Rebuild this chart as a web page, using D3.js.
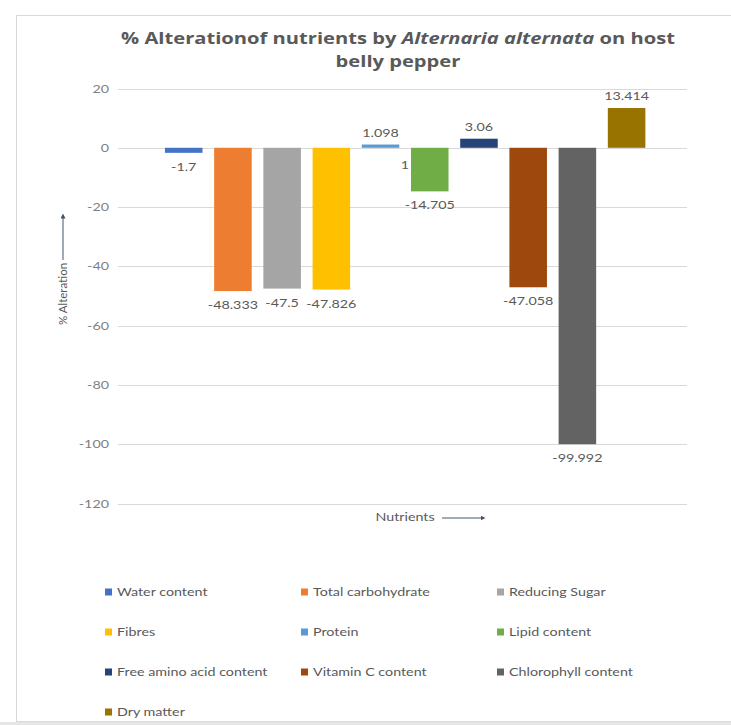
<!DOCTYPE html>
<html><head><meta charset="utf-8">
<script src="https://cdn.jsdelivr.net/npm/d3@7"></script>
<style>body{margin:0;background:#fff;}svg{display:block;font-family:Lato,"Open Sans",sans-serif;}</style>
</head><body>
<svg id="chart" width="731" height="725"></svg>
<script>
const categories = ["Water content","Total carbohydrate","Reducing Sugar","Fibres","Protein","Lipid content","Free amino acid content","Vitamin C content","Chlorophyll content","Dry matter"];
const values = [-1.7,-48.333,-47.5,-47.826,1.098,-14.705,3.06,-47.058,-99.992,13.414];
const labels = ["-1.7","-48.333","-47.5","-47.826","1.098","-14.705","3.06","-47.058","-99.992","13.414"];
const colors = ["#4472C4","#ED7D31","#A5A5A5","#FFC000","#5B9BD5","#70AD47","#264478","#9E480E","#636363","#997300"];
const yTicks = [20,0,-20,-40,-60,-80,-100,-120];

const SX = 1.3; // horizontal stretch of the reference image's text
const svg = d3.select("#chart");
// frame
svg.append("rect").attr("x",16.5).attr("y",15.5).attr("width",730).attr("height",706)
  .attr("fill","#fff").attr("stroke","#d9d9d9");
svg.append("rect").attr("x",0).attr("y",722).attr("width",731).attr("height",3).attr("fill","#e6e6e6");

const y = d3.scaleLinear().domain([-120,20]).range([503.5,88.5]);
const x = d3.scaleBand().domain(categories).range([118,687]).paddingInner(0.237).paddingOuter(0.9).align(0.53);

// gridlines
svg.append("g").selectAll("line").data(yTicks).join("line")
  .attr("x1",118).attr("x2",687).attr("y1",d=>Math.round(y(d))+0.5).attr("y2",d=>Math.round(y(d))+0.5)
  .attr("stroke","#d9d9d9").attr("stroke-width",1);
// tick labels
const yAxis = d3.axisLeft(y).tickValues(yTicks).tickSize(0).tickPadding(0).tickFormat(d=>String(d));
const ga = svg.append("g").attr("transform","translate(109,0)").call(yAxis);
ga.select(".domain").remove();
ga.selectAll("text").attr("fill","#7f7f7f").attr("font-size","11px").attr("x",0)
  .attr("transform",`scale(${SX},1)`).style("font-family","Lato,sans-serif");

// bars
svg.append("g").selectAll("rect").data(values).join("rect")
  .attr("x",(d,i)=>x(categories[i])).attr("width",x.bandwidth())
  .attr("y",d=>y(Math.max(0,d))).attr("height",d=>Math.abs(y(d)-y(0)))
  .attr("fill",(d,i)=>colors[i]);

function stretched(g, tx, ty, txt, size, anchor, fill){
  return g.append("text").attr("transform",`translate(${tx},${ty}) scale(${SX},1)`)
    .attr("text-anchor",anchor).attr("font-size",size).attr("fill",fill).text(txt);
}

// data labels
const gl = svg.append("g");
values.forEach((d,i)=>{
  const cx = x(categories[i])+x.bandwidth()/2;
  stretched(gl, cx, d<0?y(d)+18:y(d)-8, labels[i], "11px", "middle", "#595959");
});
// stray label fragment
stretched(gl, x("Lipid content")-6, y(-7.3), "1", "11px", "middle", "#595959");

// title
const tg = svg.append("g").style("font-family","'Open Sans',sans-serif").attr("font-weight","bold");
const t = stretched(tg, 398, 43.5, null, "15.5px", "middle", "#595959");
t.append("tspan").text("% Alterationof nutrients by ");
t.append("tspan").attr("font-style","italic").text("Alternaria alternata");
t.append("tspan").text(" on host");
stretched(tg, 398, 66.5, "belly pepper", "15.5px", "middle", "#595959");

// arrow marker
svg.append("defs").append("marker").attr("id","arr").attr("viewBox","0 0 10 10")
  .attr("refX",5).attr("refY",5).attr("markerWidth",5).attr("markerHeight",5).attr("orient","auto-start-reverse")
  .append("path").attr("d","M0,0L10,5L0,10z").attr("fill","#44546A");

// y axis title
svg.append("text").attr("transform","translate(67,294) rotate(-90)").attr("text-anchor","middle")
  .attr("font-size","11.5px").attr("fill","#595959").text("% Alteration");
svg.append("line").attr("x1",63).attr("x2",63).attr("y1",260).attr("y2",216)
  .attr("stroke","#44546A").attr("stroke-width",1).attr("marker-end","url(#arr)");

// x axis title
stretched(svg, 405, 521, "Nutrients", "11px", "middle", "#595959");
svg.append("line").attr("x1",442).attr("x2",483).attr("y1",518).attr("y2",518)
  .attr("stroke","#44546A").attr("stroke-width",1).attr("marker-end","url(#arr)");

// legend
const colX = [105,301,497];
const rowY = [592,632,672,712];
const lg = svg.append("g").selectAll("g").data(categories).join("g")
  .attr("transform",(d,i)=>`translate(${colX[i%3]},${rowY[Math.floor(i/3)]})`);
lg.append("rect").attr("x",0).attr("y",-3.5).attr("width",7).attr("height",7).attr("fill",(d,i)=>colors[i]);
lg.append("text").attr("transform",`translate(12,4) scale(${SX},1)`).attr("font-size","11px").attr("fill","#595959").text(d=>d);
</script>
</body></html>
